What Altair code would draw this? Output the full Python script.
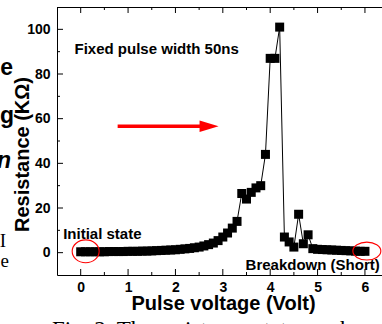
import altair as alt
import pandas as pd

FONT = "Liberation Sans"
SERIF = "Liberation Serif"

# ---- data ----
voltage = [0.0, 0.1, 0.2, 0.3, 0.4, 0.5, 0.6, 0.7, 0.8, 0.9,
           1.0, 1.1, 1.2, 1.3, 1.4, 1.5, 1.6, 1.7, 1.8, 1.9,
           2.0, 2.1, 2.2, 2.3, 2.4, 2.5, 2.6, 2.7, 2.8, 2.9,
           3.0, 3.1, 3.2, 3.3, 3.4, 3.5, 3.6, 3.7, 3.8, 3.9,
           4.0, 4.1, 4.2, 4.3, 4.4, 4.5, 4.6, 4.7, 4.8, 4.9,
           5.0, 5.1, 5.2, 5.3, 5.4, 5.5, 5.6, 5.7, 5.8, 5.9, 6.0]
resistance = [0.4, 0.4, 0.4, 0.4, 0.4, 0.4, 0.5, 0.5, 0.5, 0.5,
              0.6, 0.6, 0.6, 0.7, 0.7, 0.8, 0.9, 1.0, 1.1, 1.2,
              1.3, 1.5, 1.7, 1.9, 2.2, 2.5, 3.0, 3.6, 4.3, 5.4,
              7.0, 8.8, 11.0, 14.0, 26.5, 24.0, 27.0, 29.0, 30.0, 44.0,
              87.0, 87.0, 101.0, 7.0, 4.8, 2.5, 17.2, 4.0, 8.0, 1.8,
              1.5, 1.4, 1.3, 1.2, 1.1, 1.0, 0.9, 0.8, 0.7, 0.6, 0.6]

x_major = [0, 1, 2, 3, 4, 5, 6]
x_minor = [0.5, 1.5, 2.5, 3.5, 4.5, 5.5]
y_major = [0, 20, 40, 60, 80, 100]
y_minor = [10, 30, 50, 70, 90]

# annotations (data coordinates)
ann_text = ["Fixed pulse width 50ns", "Initial state", "Breakdown (Short)"]
ann_v = [-0.13, -0.37, 3.48]
ann_r = [89.0, 6.3, -7.9]

ellipse_left = {"v": [0.105], "r": [0.6]}
ellipse_right = {"v": [6.04], "r": [0.7]}
arrow_v = [0.78, 2.62]
arrow_r = [56.6, 56.6]
arrow_head_v = [2.71]

df = pd.DataFrame({"v": voltage, "r": resistance})

xs = alt.Scale(domain=[-0.5, 6.36], nice=False, zero=False)
ys = alt.Scale(domain=[-10, 110], nice=False, zero=False)

x_axis = alt.Axis(values=x_major, format="d", title="Pulse voltage (Volt)",
                  labelFont=FONT, labelFontSize=14, labelFontWeight="bold",
                  labelColor="black", labelPadding=5, labelFlush=False,
                  labelOverlap=False, ticks=False, tickSize=0, grid=False,
                  domainColor="black", domainWidth=1,
                  titleFont=FONT, titleFontSize=20, titleFontWeight="bold",
                  titleColor="black", titleX=166, titleY=34,
                  titleAlign="center", titleBaseline="alphabetic")
y_axis = alt.Axis(values=y_major, format="d", title="Resistance (KΩ)",
                  labelFont=FONT, labelFontSize=14, labelFontWeight="bold",
                  labelColor="black", labelPadding=7, labelFlush=False,
                  labelOverlap=False, ticks=False, tickSize=0, grid=False,
                  domainColor="black", domainWidth=1,
                  titleFont=FONT, titleFontSize=20, titleFontWeight="bold",
                  titleColor="black", titleX=-28.5, titleY=147, titleAngle=270,
                  titleAlign="center", titleBaseline="alphabetic")

X = alt.X("v:Q", scale=xs, axis=x_axis)
Y = alt.Y("r:Q", scale=ys, axis=y_axis)

base = alt.Chart(df)
line = base.mark_line(color="black", strokeWidth=1).encode(x=X, y=Y)
pts = base.mark_point(shape="square", filled=True, size=81, color="black",
                      opacity=1).encode(x=X, y=Y)

H = 268
W = 325
xmaj = pd.DataFrame({"v": x_major})
xmin = pd.DataFrame({"v": x_minor})
ymaj = pd.DataFrame({"r": y_major})
ymin = pd.DataFrame({"r": y_minor})

def xtick(d, y1, y2):
    return alt.Chart(d).mark_rule(color="black", strokeWidth=1).encode(
        x=X, y=alt.value(y1), y2=alt.value(y2))

def ytick(d, x1, x2):
    return alt.Chart(d).mark_rule(color="black", strokeWidth=1).encode(
        y=Y, x=alt.value(x1), x2=alt.value(x2))

ticks = [xtick(xmaj, H, H - 6), xtick(xmin, H, H - 3),
         xtick(xmaj, 0, 6), xtick(xmin, 0, 3),
         ytick(ymaj, 0, 6), ytick(ymin, 0, 3)]

top_frame = alt.Chart(xmaj).mark_rule(color="black", strokeWidth=1).encode(
    x=alt.value(0), x2=alt.value(W), y=alt.value(0.5))

ann = alt.Chart(pd.DataFrame({"t": ann_text, "v": ann_v, "r": ann_r})).mark_text(
    font=FONT, fontSize=15, fontWeight="bold", align="left",
    baseline="alphabetic", color="black").encode(x=X, y=Y, text="t:N")

ell_l = alt.Chart(pd.DataFrame(ellipse_left)).mark_point(
    shape="M-1,0A1,0.85,0,1,0,1,0A1,0.85,0,1,0,-1,0Z",
    size=729, filled=False, color="#ff0000", strokeWidth=1.1, opacity=1).encode(x=X, y=Y)
ell_r = alt.Chart(pd.DataFrame(ellipse_right)).mark_point(
    shape="M-1,0A1,0.64,0,1,0,1,0A1,0.64,0,1,0,-1,0Z",
    size=784, filled=False, color="#ff0000", strokeWidth=1.1, opacity=1).encode(x=X, y=Y)

arrow_df = pd.DataFrame({"v": [arrow_v[0]], "v2": [arrow_v[1]], "r": [arrow_r[0]]})
arrow = alt.Chart(arrow_df).mark_rule(color="#ff0000", strokeWidth=3.5).encode(
    x=X, x2="v2:Q", y=Y)
head = alt.Chart(pd.DataFrame({"v": arrow_head_v, "r": [arrow_r[0]]})).mark_point(
    shape="M-1,-0.6L1,0L-1,0.6Z", size=361, filled=True, color="#ff0000",
    opacity=1).encode(x=X, y=Y)

# fragments of the surrounding page text (pixel positions relative to plot area)
def frag(t, px, py, font, size, weight="normal", style="normal"):
    return alt.Chart(pd.DataFrame({"t": [t]})).mark_text(
        font=font, fontSize=size, fontWeight=weight, fontStyle=style,
        align="right", baseline="alphabetic", color="black").encode(
        x=alt.value(px), y=alt.value(py), text="t:N")

frags = [frag("e", -44, 68, FONT, 23, "bold"),
         frag("g", -43, 116, FONT, 23, "bold"),
         frag("n", -46, 161, FONT, 23, "bold", "italic"),
         frag("I", -51, 240, SERIF, 19),
         frag("e", -48, 260, SERIF, 19)]

caption = alt.Chart(pd.DataFrame({"t": ["Fig. 2.  The resistance state can be"]})).mark_text(
    font=SERIF, fontSize=23, align="left", baseline="alphabetic", color="black").encode(
    x=alt.value(-5), y=alt.value(329.5), text="t:N")

chart = alt.layer(line, pts, *ticks, top_frame, ann, ell_l, ell_r, arrow, head,
                  *frags, caption).properties(
    width=W, height=H,
    autosize=alt.AutoSizeParams(type="none"),
    padding={"left": 57, "top": 7, "right": 0, "bottom": 49},
    background="white",
).configure_view(stroke=None)

chart.save("out.html", embed_options={"renderer": "svg", "actions": False})
